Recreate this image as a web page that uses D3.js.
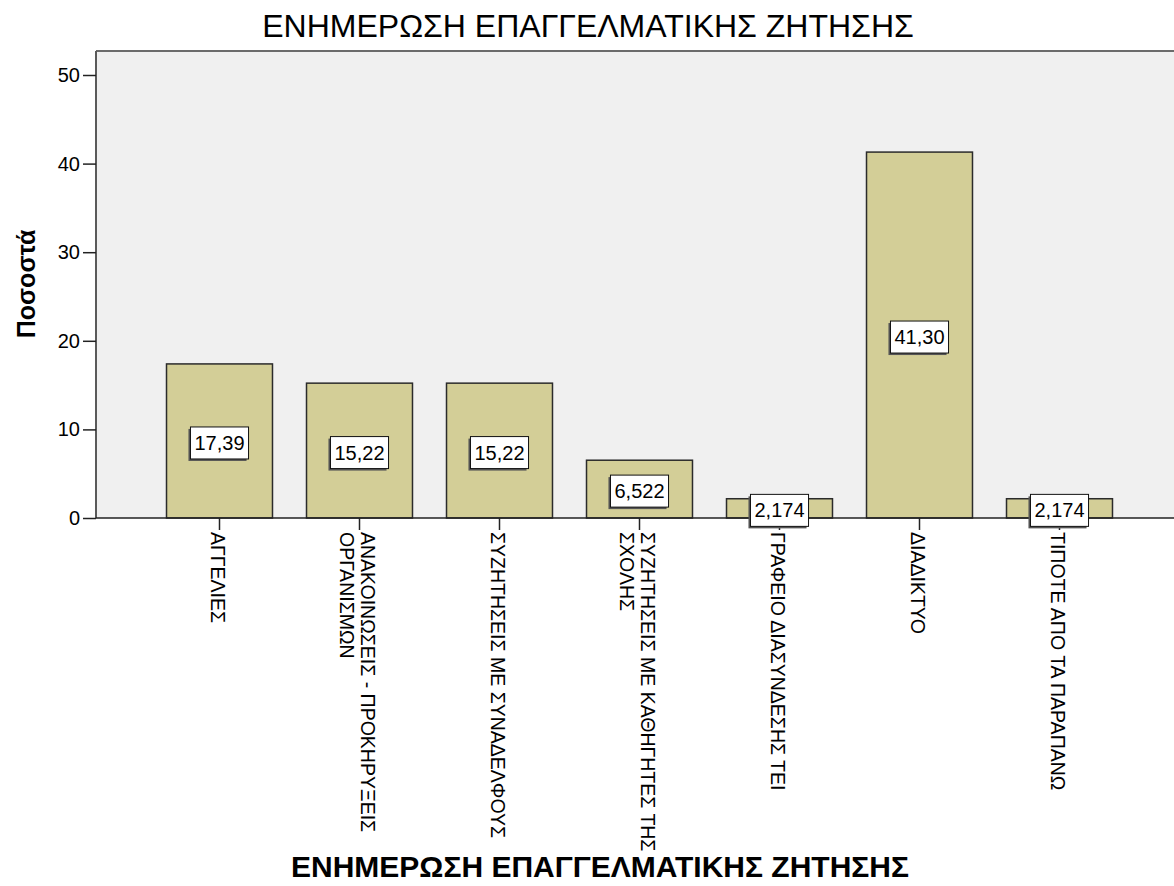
<!DOCTYPE html>
<html>
<head>
<meta charset="utf-8">
<script src="https://cdn.jsdelivr.net/npm/d3@7"></script>
<style>
  body { margin: 0; background: #fff; }
  svg { display: block; }
  text { font-family: "Liberation Sans", Arial, sans-serif; fill: #000; }
</style>
</head>
<body>
<svg id="chart" width="1174" height="886"></svg>
<script>
const title = "ΕΝΗΜΕΡΩΣΗ ΕΠΑΓΓΕΛΜΑΤΙΚΗΣ ΖΗΤΗΣΗΣ";
const yTitle = "Ποσοστά";
const categories = [
  ["ΑΓΓΕΛΙΕΣ"],
  ["ΑΝΑΚΟΙΝΩΣΕΙΣ - ΠΡΟΚΗΡΥΞΕΙΣ", "ΟΡΓΑΝΙΣΜΩΝ"],
  ["ΣΥΖΗΤΗΣΕΙΣ ΜΕ ΣΥΝΑΔΕΛΦΟΥΣ"],
  ["ΣΥΖΗΤΗΣΕΙΣ ΜΕ ΚΑΘΗΓΗΤΕΣ ΤΗΣ", "ΣΧΟΛΗΣ"],
  ["ΓΡΑΦΕΙΟ ΔΙΑΣΥΝΔΕΣΗΣ ΤΕΙ"],
  ["ΔΙΑΔΙΚΤΥΟ"],
  ["ΤΙΠΟΤΕ ΑΠΟ ΤΑ ΠΑΡΑΠΑΝΩ"]
];
const values = [17.39, 15.22, 15.22, 6.522, 2.174, 41.30, 2.174];
const valueLabels = ["17,39", "15,22", "15,22", "6,522", "2,174", "41,30", "2,174"];
const yTicks = [0, 10, 20, 30, 40, 50];

const svg = d3.select("#chart");
const plot = { left: 96, top: 51, right: 1174, bottom: 518 };

const keys = categories.map((c) => c.join(" "));
const x = d3.scaleBand().domain(keys).range([149.5, 1129.5]).paddingInner(0.243).paddingOuter(0.1215);
const y = d3.scaleLinear().domain([0, 50]).range([plot.bottom, 75]);

// plot background + frame
svg.append("rect").attr("x", plot.left).attr("y", plot.top)
  .attr("width", plot.right - plot.left).attr("height", plot.bottom - plot.top)
  .attr("fill", "#f0f0f0");
svg.append("line").attr("x1", plot.left).attr("x2", plot.right).attr("y1", plot.top).attr("y2", plot.top)
  .attr("stroke", "#6b6b6b").attr("stroke-width", 2);

// bars
svg.append("g").selectAll("rect").data(values).join("rect")
  .attr("x", (d, i) => x(keys[i]))
  .attr("y", (d) => y(d))
  .attr("width", x.bandwidth())
  .attr("height", (d) => y(0) - y(d))
  .attr("fill", "#d3ce97").attr("stroke", "#2b2b2b").attr("stroke-width", 1.5);

// y axis
const yAxis = svg.append("g").attr("transform", `translate(${plot.left},0)`)
  .call(d3.axisLeft(y).tickValues(yTicks).tickSize(13).tickPadding(3));
yAxis.select(".domain").attr("d", `M0,${plot.top}V${plot.bottom}`).attr("stroke", "#5a5a5a").attr("stroke-width", 2);
yAxis.selectAll(".tick line").attr("stroke", "#222").attr("stroke-width", 1.5);
yAxis.selectAll(".tick text").attr("font-size", 20).attr("fill", "#222")
  .style("font-family", "'Liberation Sans', Arial, sans-serif");

// x axis
const xAxis = svg.append("g").attr("transform", `translate(0,${plot.bottom})`)
  .call(d3.axisBottom(x).tickSize(12).tickFormat(""));
xAxis.select(".domain").attr("d", `M${plot.left},0H${plot.right}`).attr("stroke", "#222").attr("stroke-width", 1.5);
xAxis.selectAll(".tick line").attr("stroke", "#222").attr("stroke-width", 1.5);

// rotated category labels
const lineH = 21;
svg.append("g").selectAll("text").data(categories).join("text")
  .attr("transform", (d, i) => `translate(${x(keys[i]) + x.bandwidth() / 2},${plot.bottom + 14}) rotate(90)`)
  .attr("font-size", 19.5)
  .each(function (d) {
    const t = d3.select(this);
    const off = -(d.length - 1) * lineH / 2 + 2;
    d.forEach((line, j) => {
      t.append("tspan").attr("x", 0).attr("y", off + j * lineH).attr("dy", "0.35em").text(line);
    });
  });

// value labels
const lab = svg.append("g").selectAll("g").data(values).join("g")
  .attr("transform", (d, i) => `translate(${x(keys[i]) + x.bandwidth() / 2},${(y(d) + y(0)) / 2 + 2})`);
lab.append("text").attr("text-anchor", "middle").attr("dy", "0.35em")
  .attr("font-size", 20).text((d, i) => valueLabels[i]);
lab.each(function () {
  const g = d3.select(this);
  const w = g.select("text").node().getComputedTextLength() + 8;
  g.insert("rect", "text").attr("x", -w / 2 - 2).attr("y", -14).attr("width", w).attr("height", 32).attr("fill", "#555");
  g.insert("rect", "text").attr("x", -w / 2).attr("y", -16).attr("width", w).attr("height", 32)
    .attr("fill", "#fff").attr("stroke", "#111").attr("stroke-width", 1);
});

// titles
svg.append("text").attr("x", 588).attr("y", 37).attr("text-anchor", "middle")
  .attr("font-size", 32).text(title);
svg.append("text").attr("transform", "translate(35,284) rotate(-90)").attr("text-anchor", "middle")
  .attr("font-size", 25).attr("font-weight", "bold").text(yTitle);
svg.append("text").attr("x", 600).attr("y", 877).attr("text-anchor", "middle")
  .attr("font-size", 30).attr("font-weight", "bold").text(title);
</script>
</body>
</html>
